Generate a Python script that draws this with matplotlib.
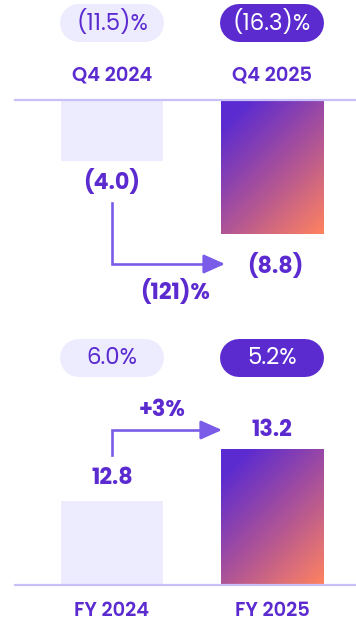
import matplotlib

matplotlib.use("Agg")
import matplotlib.pyplot as plt
from matplotlib.colors import LinearSegmentedColormap
import numpy as np

# Quarterly and full-year figures
quarter_labels = ["Q4 2024", "Q4 2025"]
quarter_values = [-4.0, -8.8]
quarter_margins = ["(11.5)%", "(16.3)%"]
quarter_change = "(121)%"

year_labels = ["FY 2024", "FY 2025"]
year_values = [12.8, 13.2]
year_margins = ["6.0%", "5.2%"]
year_change = "+3%"

PURPLE = "#5b2bd0"
ARROW = "#7b5ce8"
LAVENDER = "#edebfe"
RULE = "#c8c0f8"
FONT = ["Poppins", "Inter", "DejaVu Sans"]

W, H = 356, 622
X_PER_PX = 1 / 160          # one category every 160 px
X_LEFT = -0.7
TOP_PX = 15.2               # px per unit, quarter panel
BOT_PX = 130.0              # px per unit, full-year panel (truncated axis)
BOT_BASE = 12.15

grad_cmap = LinearSegmentedColormap.from_list(
    "bar", [(0.0, "#5a2bd3"), (0.12, "#5c2bd0"), (0.5, "#a24d9f"), (1.0, "#ff8360")]
)

plt.rcParams["font.family"] = FONT


def fmt_value(v):
    return f"({abs(v):.1f})" if v < 0 else f"{v:.1f}"


def px_x(px):
    return X_LEFT + px * X_PER_PX


def gradient_fill(ax, patch):
    x0, y0 = patch.get_x(), patch.get_y()
    w, h = patch.get_width(), patch.get_height()
    ys = sorted([y0, y0 + h])
    rows, cols = 135, 103
    jj, ii = np.meshgrid(np.arange(cols), np.arange(rows))
    t = (jj + ii) / (cols + rows - 2)
    im = ax.imshow(t, cmap=grad_cmap, extent=(x0, x0 + w, ys[0], ys[1]),
                   origin="upper", aspect="auto", interpolation="bilinear", zorder=2)
    im.set_clip_path(patch)
    patch.set_facecolor("none")


def pill(ax, xc, yc, text, dark):
    half = 0.206
    ax.plot([xc - half, xc + half], [yc, yc], color=PURPLE if dark else LAVENDER,
            lw=38 * 0.72, solid_capstyle="round", zorder=3)
    ax.text(xc, yc, text, ha="center", va="center", fontsize=16.5, fontweight="normal",
            color="white" if dark else PURPLE, zorder=4)


def elbow_arrow(ax, x_start, y_start, y_turn, x_tip):
    ax.plot([x_start, x_start, x_tip - 0.05], [y_start, y_turn, y_turn],
            color=ARROW, lw=1.9, solid_joinstyle="miter", zorder=3)
    ax.annotate("", xy=(x_tip, y_turn), xytext=(x_tip - 0.12, y_turn),
                arrowprops=dict(arrowstyle="-|>,head_length=13,head_width=5.8",
                                mutation_scale=1, color=ARROW, lw=1.9,
                                shrinkA=0, shrinkB=0), zorder=3)


fig = plt.figure(figsize=(W / 100, H / 100), dpi=100)
fig.patch.set_facecolor("white")

x = np.arange(2)
bar_w = 0.64
xlim = (X_LEFT, X_LEFT + W * X_PER_PX)

# ---- quarter panel (top half) ----
ax1 = fig.add_axes([0, 311 / H, 1, 311 / H])
ty = lambda py: (100 - py) / TOP_PX
bars = ax1.bar(x, quarter_values, bar_w, color=[LAVENDER, "none"], zorder=2)
gradient_fill(ax1, bars[1])
ax1.plot([px_x(15), xlim[1]], [0, 0], color=RULE, lw=1.6, zorder=4)

for i in x:
    pill(ax1, i, ty(23), quarter_margins[i], dark=i == 1)
    ax1.text(i, ty(76), quarter_labels[i], ha="center", va="center",
             fontsize=14, fontweight="semibold", color=PURPLE)

ax1.text(0, ty(182), fmt_value(quarter_values[0]), ha="center", va="center",
         fontsize=16, fontweight="bold", color=PURPLE)
ax1.text(px_x(275), ty(266), fmt_value(quarter_values[1]), ha="center", va="center",
         fontsize=16, fontweight="bold", color=PURPLE)
ax1.text(px_x(175), ty(292), quarter_change, ha="center", va="center",
         fontsize=16, fontweight="bold", color=PURPLE)
elbow_arrow(ax1, 0, ty(203), ty(264), px_x(225))

ax1.set_xlim(*xlim)
ax1.set_ylim(ty(311), ty(0))
ax1.axis("off")

# ---- full-year panel (bottom half) ----
ax2 = fig.add_axes([0, 0, 1, 311 / H])
by = lambda py: BOT_BASE + (585 - py) / BOT_PX
heights = [v - BOT_BASE for v in year_values]
bars = ax2.bar(x, heights, bar_w, bottom=BOT_BASE, color=[LAVENDER, "none"], zorder=2)
gradient_fill(ax2, bars[1])
ax2.plot([px_x(15), xlim[1]], [BOT_BASE, BOT_BASE], color=RULE, lw=1.6, zorder=4)

for i in x:
    pill(ax2, i, by(358), year_margins[i], dark=i == 1)
    ax2.text(i, by(612), year_labels[i], ha="center", va="center",
             fontsize=14, fontweight="semibold", color=PURPLE)

ax2.text(0, by(478), fmt_value(year_values[0]), ha="center", va="center",
         fontsize=16, fontweight="bold", color=PURPLE)
ax2.text(1, by(430), fmt_value(year_values[1]), ha="center", va="center",
         fontsize=16, fontweight="bold", color=PURPLE)
ax2.text(px_x(162), by(410), year_change, ha="center", va="center",
         fontsize=16, fontweight="bold", color=PURPLE)
elbow_arrow(ax2, 0, by(455), by(430), px_x(222))

ax2.set_xlim(*xlim)
ax2.set_ylim(by(622), by(311))
ax2.axis("off")

fig.savefig("out.png", dpi=100)
